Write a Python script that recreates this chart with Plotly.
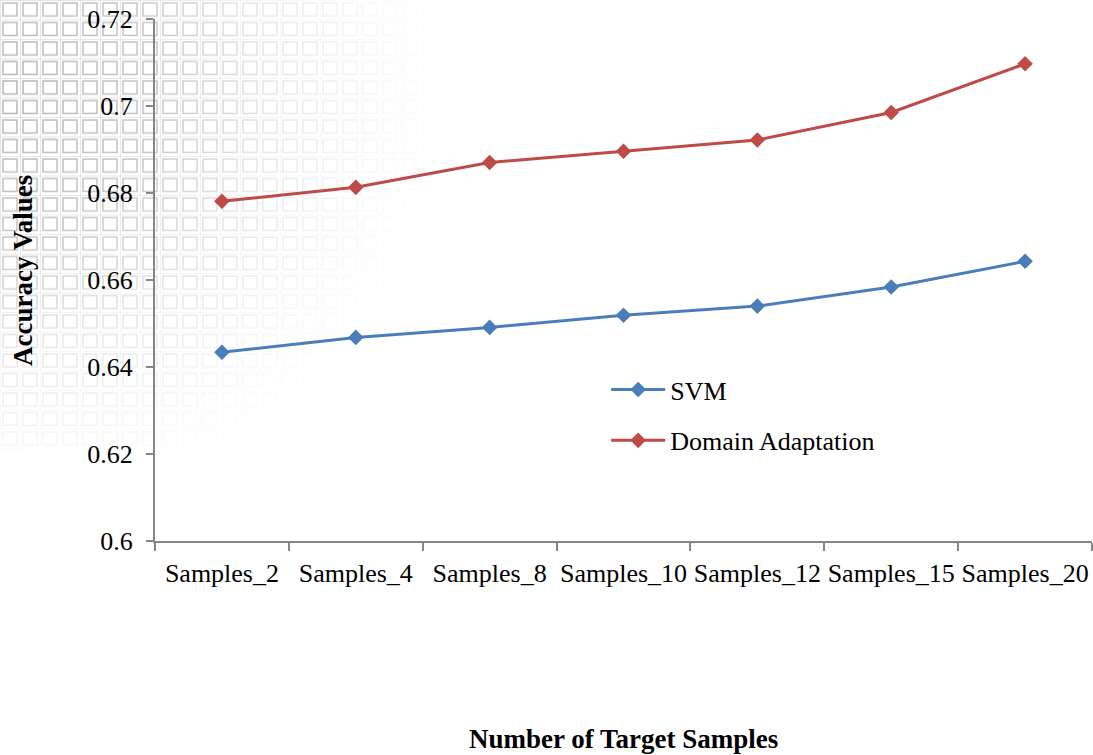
import base64

import plotly.graph_objects as go

# ======================================================
# Data
# ======================================================
categories = ["Samples_2", "Samples_4", "Samples_8", "Samples_10",
              "Samples_12", "Samples_15", "Samples_20"]
svm_acc = [0.6434, 0.6468, 0.6491, 0.6519, 0.6540, 0.6584, 0.6643]
da_acc = [0.6781, 0.6813, 0.6870, 0.6896, 0.6922, 0.6985, 0.7097]
y_ticks = [0.6, 0.62, 0.64, 0.66, 0.68, 0.7, 0.72]

SERIF = "Liberation Serif, Times New Roman, serif"
AXIS_GRAY = "#868686"

W, H = 1093, 755
# plot area in page pixels
PL, PR, PT, PB = 155, 1092, 19, 541
PW, PH = PR - PL, PB - PT


def px_x(x):
    return (x - PL) / PW


def px_y(y):
    return (PB - y) / PH


# ======================================================
# Faded square-grid watermark (top-left background)
# ======================================================
svg = """<svg xmlns="http://www.w3.org/2000/svg" width="470" height="450" viewBox="0 0 470 450">
<defs>
<pattern id="p" width="20" height="19.5" patternUnits="userSpaceOnUse">
<rect x="3" y="3" width="14" height="13" fill="none" stroke="#8c8c8c" stroke-width="1.5"/>
<line x1="0" y1="0.5" x2="20" y2="0.5" stroke="#c8c8c8" stroke-width="0.8"/>
<line x1="0.5" y1="0" x2="0.5" y2="20" stroke="#c8c8c8" stroke-width="0.8"/>
</pattern>
<radialGradient id="g" cx="0.0" cy="0.2" r="0.95">
<stop offset="0" stop-color="white" stop-opacity="0.65"/>
<stop offset="0.35" stop-color="white" stop-opacity="0.5"/>
<stop offset="0.6" stop-color="white" stop-opacity="0.22"/>
<stop offset="0.85" stop-color="white" stop-opacity="0.06"/>
<stop offset="1" stop-color="white" stop-opacity="0"/>
</radialGradient>
<mask id="m"><rect width="470" height="450" fill="url(#g)"/></mask>
</defs>
<rect width="470" height="450" fill="url(#p)" mask="url(#m)"/>
</svg>"""
watermark = "data:image/svg+xml;base64," + base64.b64encode(svg.encode()).decode()

fig = go.Figure()

fig.add_trace(
    go.Scatter(
        x=categories,
        y=svm_acc,
        mode="lines+markers",
        name="SVM",
        legendgroup="svm",
        line=dict(color="#4A7EBB", width=3),
        marker=dict(symbol="diamond", size=12, color="#4A7EBB"),
    )
)

fig.add_trace(
    go.Scatter(
        x=categories,
        y=da_acc,
        mode="lines+markers",
        name="Domain Adaptation",
        legendgroup="da",
        line=dict(color="#BE4B48", width=3),
        marker=dict(symbol="diamond", size=12, color="#BE4B48"),
    )
)

fig.update_layout(
    width=W,
    height=H,
    margin=dict(l=PL, r=W - PR, t=PT, b=H - PB),
    paper_bgcolor="white",
    plot_bgcolor="rgba(0,0,0,0)",
    font=dict(family=SERIF, color="black", size=26),
    showlegend=True,
    legend=dict(
        x=0.4815,
        y=0.335,
        xanchor="left",
        yanchor="top",
        bgcolor="rgba(0,0,0,0)",
        font=dict(family=SERIF, size=26),
        tracegroupgap=14,
        itemwidth=54,
    ),
    images=[
        dict(
            source=watermark,
            xref="paper", yref="paper",
            x=px_x(0), y=px_y(0),
            sizex=470 / PW, sizey=450 / PH,
            xanchor="left", yanchor="top",
            sizing="stretch",
            layer="below",
        )
    ],
    xaxis=dict(
        type="category",
        range=[-0.5, len(categories) - 0.5],
        automargin=False,
        showgrid=False,
        zeroline=False,
        showline=True,
        linecolor=AXIS_GRAY,
        linewidth=2,
        ticks="outside",
        tickson="boundaries",
        ticklen=8,
        tickcolor=AXIS_GRAY,
        tickwidth=2,
        tickangle=0,
        ticklabelstandoff=8,
        tickfont=dict(family=SERIF, size=26),
    ),
    yaxis=dict(
        range=[0.6, 0.72],
        automargin=False,
        tickvals=y_ticks,
        ticktext=[f"{v:g}" for v in y_ticks],
        ticklabeloverflow="allow",
        ticklabelstandoff=8,
        showgrid=False,
        zeroline=False,
        showline=True,
        linecolor=AXIS_GRAY,
        linewidth=2,
        ticks="outside",
        ticklen=7,
        tickcolor=AXIS_GRAY,
        tickwidth=2,
        tickfont=dict(family=SERIF, size=26),
    ),
    annotations=[
        dict(
            text="<b>Number of Target Samples</b>",
            xref="paper", yref="paper",
            x=0.5, y=px_y(739),
            xanchor="center", yanchor="middle",
            showarrow=False,
            font=dict(family=SERIF, size=27),
        ),
        dict(
            text="<b>Accuracy Values</b>",
            xref="paper", yref="paper",
            x=px_x(23), y=px_y(271),
            xanchor="center", yanchor="middle",
            textangle=-90,
            showarrow=False,
            font=dict(family=SERIF, size=27),
        ),
    ],
)

# drop the default 8px body margin so the 1093x755 figure fills the window
fig.write_html(
    "out.html",
    config={"displayModeBar": False},
    post_script="document.body.style.margin='0px';document.body.style.overflow='hidden';",
)
